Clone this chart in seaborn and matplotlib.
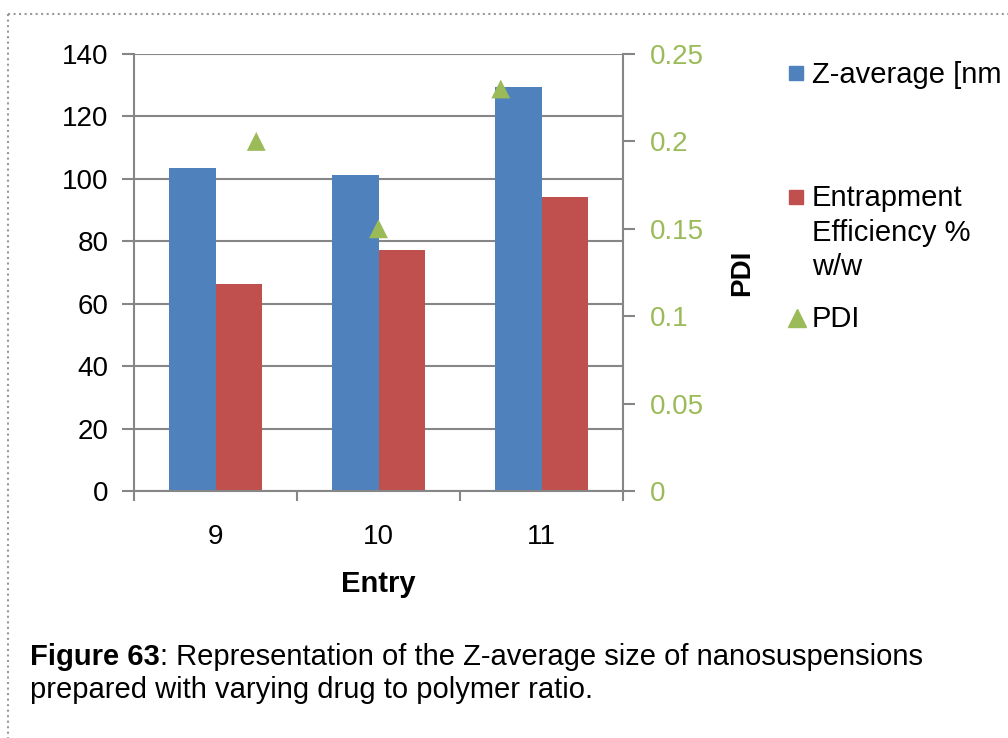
import numpy as np
import pandas as pd
import seaborn as sns
import matplotlib
matplotlib.use("Agg")
import matplotlib.pyplot as plt
from matplotlib.lines import Line2D
from matplotlib.ticker import FuncFormatter

# Dados
entries = ["9", "10", "11"]
z_average = [103.5, 101.2, 129.4]
entrapment = [66.3, 77.2, 94.2]
pdi = [0.20, 0.15, 0.23]
series_names = ["Z-average [nm", "Entrapment\nEfficiency %\nw/w"]
left_ticks = [0, 20, 40, 60, 80, 100, 120, 140]
right_ticks = [0, 0.05, 0.1, 0.15, 0.2, 0.25]

blue = "#4F81BD"
red = "#C0504D"
green = "#9BBB59"
grey = "#868686"

sns.set_style("white")
plt.rcParams["font.family"] = ["Liberation Sans", "DejaVu Sans"]
plt.rcParams["text.color"] = "black"
plt.rcParams["axes.labelcolor"] = "black"

df = pd.DataFrame({
    "Entry": entries * 2,
    "valor": z_average + entrapment,
    "serie": [series_names[0]] * len(entries) + [series_names[1]] * len(entries),
})

fig = plt.figure(figsize=(10.08, 7.38), dpi=100)
pos = [134 / 1008, 1 - 491 / 738, (623 - 134) / 1008, (491 - 54) / 738]
ax = fig.add_axes(pos)

sns.barplot(data=df, x="Entry", y="valor", hue="serie", palette=[blue, red],
            width=0.573, saturation=1, linewidth=0, legend=False, ax=ax)
ax.set_xlim(-0.5, len(entries) - 0.5)
ax.set_ylim(0, 140)
ax.set_yticks(left_ticks)
ax.set_axisbelow(True)
ax.yaxis.grid(True, color=grey, lw=1.5)
for s in ["left", "bottom", "right"]:
    ax.spines[s].set_color(grey)
    ax.spines[s].set_linewidth(1.5)
ax.spines["top"].set_visible(False)
ax.tick_params(axis="y", direction="out", length=8.5, width=1.5, color=grey,
               labelcolor="black", labelsize=20, pad=10, left=True)
ax.set_xticks(range(len(entries)))
ax.set_xticklabels(entries)
ax.set_xticks(np.arange(-0.5, len(entries)), minor=True)
ax.tick_params(axis="x", which="major", length=0, labelsize=20, pad=24,
               labelcolor="black")
ax.tick_params(axis="x", which="minor", direction="out", length=7, width=1.5,
               color=grey, bottom=True)
ax.set_xlabel("Entry", fontsize=21, fontweight="bold", labelpad=14.5)
ax.set_ylabel("")

# Eixo secundario do PDI
ax2 = fig.add_axes(pos, frameon=False)
pdi_x = np.arange(1, len(entries) + 1)
sns.scatterplot(x=pdi_x, y=pdi, marker="^", s=185, color=green,
                edgecolor="none", ax=ax2, legend=False)
ax2.set_xlim(0, len(entries) + 1)
ax2.set_ylim(0, 0.25)
ax2.set_yticks(right_ticks)
ax2.yaxis.set_major_formatter(FuncFormatter(lambda v, p: "%g" % v))
ax2.yaxis.tick_right()
ax2.yaxis.set_label_position("right")
ax2.xaxis.set_visible(False)
ax2.tick_params(axis="y", direction="out", length=8.5, width=1.5, color=grey,
                labelcolor=green, labelsize=20, pad=11, right=True)
ax2.set_ylabel("PDI", fontsize=20, fontweight="bold", labelpad=18)

# Legenda
fig.add_artist(Line2D([796 / 1008], [1 - 73 / 738], marker="s", ms=10, color=blue,
                      transform=fig.transFigure))
fig.text(812 / 1008, 1 - 75 / 738, series_names[0], fontsize=21, va="center")
fig.add_artist(Line2D([796 / 1008], [1 - 197 / 738], marker="s", ms=10, color=red,
                      transform=fig.transFigure))
fig.text(812 / 1008, 1 - 184 / 738, series_names[1], fontsize=21, va="top",
         linespacing=1.3)
fig.add_artist(Line2D([797 / 1008], [1 - 318 / 738], marker="^", ms=13, color=green,
                      transform=fig.transFigure))
fig.text(812 / 1008, 1 - 319 / 738, "PDI", fontsize=21, va="center")

# Legenda da figura
t1 = fig.text(30 / 1008, 1 - 665 / 738, "Figure 63", fontsize=21,
              fontweight="bold", va="baseline")
fig.text(30 / 1008, 1 - 698 / 738, "prepared with varying drug to polymer ratio.",
         fontsize=21, va="baseline")
ax.annotate(": Representation of the Z-average size of nanosuspensions",
            xy=(1, 0), xycoords=t1, va="bottom", fontsize=21,
            annotation_clip=False)

# Borda pontilhada
fig.add_artist(Line2D([8 / 1008, 1], [1 - 14 / 738, 1 - 14 / 738], ls=":",
                      color="#999999", lw=1.5, transform=fig.transFigure))
fig.add_artist(Line2D([8 / 1008, 8 / 1008], [1 - 14 / 738, 0], ls=":",
                      color="#999999", lw=1.5, transform=fig.transFigure))

fig.savefig("out.png", dpi=100)
